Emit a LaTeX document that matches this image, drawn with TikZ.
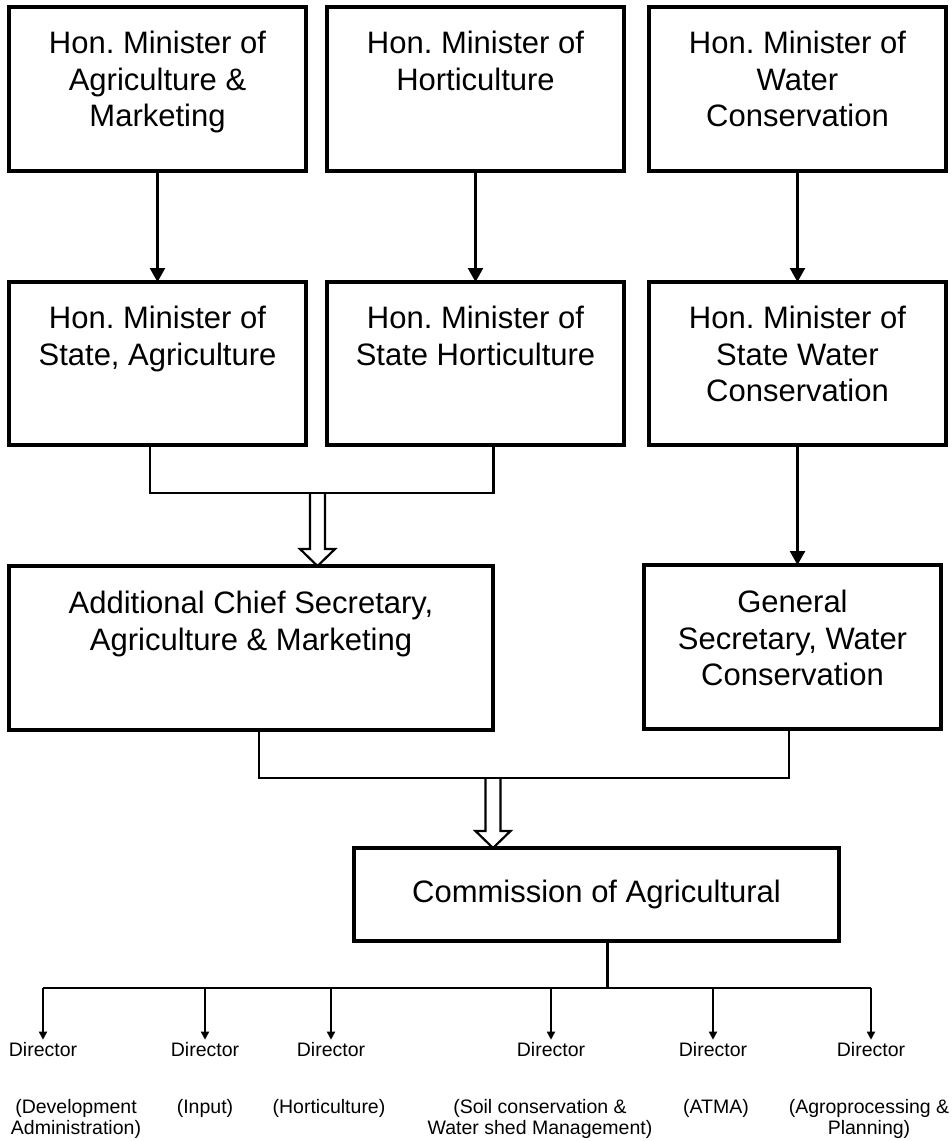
\documentclass[tikz,border=0pt]{standalone}
\usepackage{fontspec}
\setmainfont{Liberation Sans}
\usepackage{tikz}
\usetikzlibrary{positioning, arrows.meta, calc}
\newcommand{\fatarrow}[2]{%
  \draw[hollow] ($(#1)+(-7.5,0)$) -- ($(#1 |- #2)+(-7.5,-17)$) -- ++(-10,0)
    -- (#1 |- #2) -- ++(17.5,-17) -- ++(-10,0) -- ($(#1)+(7.5,0)$);}

\begin{document}
\frenchspacing
\begin{tikzpicture}[
		x=1pt, y=-1pt,
		>={Triangle[length=14pt,width=15pt]},
		box/.style={draw, line width=3.2pt, inner sep=0pt, outer sep=0pt, minimum width=297pt, minimum height=164pt},
		txt/.style={align=center, inner sep=0pt, font=\fontsize{31}{36.5}\selectfont},
		link/.style={line width=2.4pt},
		hollow/.style={line width=2.2pt, line join=miter},
		dir/.style={align=center, inner sep=0pt, font=\fontsize{19.5}{21}\selectfont},
		dirlink/.style={line width=1.7pt, -{Triangle[length=8pt,width=8pt]}}]

	\useasboundingbox (0,0) rectangle (951,1141);

	% ministers
	\node[box] (agri) at (157.5,89) {};
	\node[box, right=21pt of agri] (horti) {};
	\node[box, right=25pt of horti] (water) {};
	\node[txt, below=24pt of agri.north] (agri-t) {Hon. Minister of\\Agriculture \&\\Marketing};
	\node[txt, below=24pt of horti.north] (horti-t) {Hon. Minister of\\Horticulture};
	\node[txt, below=24pt of water.north] (water-t) {Hon. Minister of\\Water\\Conservation};

	% ministers of state
	\node[box, minimum height=163pt, below=111pt of agri] (agrist) {};
	\node[box, minimum height=163pt, below=111pt of horti] (hortist) {};
	\node[box, minimum height=163pt, below=111pt of water] (waterst) {};
	\node[txt, below=24pt of agrist.north] (agrist-t) {Hon. Minister of\\State, Agriculture};
	\node[txt, below=24pt of hortist.north] (hortist-t) {Hon. Minister of\\State Horticulture};
	\node[txt, below=24pt of waterst.north] (waterst-t) {Hon. Minister of\\State Water\\Conservation};

	% secretaries
	\node[box, minimum width=484pt] (acs) at (251,648) {};
	\node[box] (gs) at (792.5,647) {};
	\node[txt, below=25pt of acs.north] (acs-t) {Additional Chief Secretary,\\Agriculture \& Marketing};
	\node[txt, below=25pt of gs.north] (gs-t) {General\\Secretary, Water\\Conservation};

	\node[box, txt, draw, line width=3.2pt, minimum width=485pt, minimum height=93pt] (com) at (596.5,894.5) {Commission of Agricultural};

	\draw[link, ->] (agri) -- (agrist);
	\draw[link, ->] (horti) -- (hortist);
	\draw[link, ->] (water) -- (waterst);
	\draw[link, ->] (waterst.south) -- (waterst.south |- gs.north);

	\draw[link] ([xshift=-7.5pt]agrist.south) -- ++(0,48) -| ([xshift=18pt]hortist.south);
	\coordinate (j1) at (317.5,493);
	\fatarrow{j1}{acs.north}

	\draw[link] ([xshift=8pt]acs.south) -- ++(0,48) -| ([xshift=-3.5pt]gs.south);
	\coordinate (j2) at (493,778);
	\fatarrow{j2}{com.north}

	% directors
	\node[dir, anchor=base] (d1) at (43,1056) {Director};
	\node[dir, anchor=base] (d2) at (205,1056) {Director};
	\node[dir, anchor=base] (d3) at (331,1056) {Director};
	\node[dir, anchor=base] (d4) at (551,1056) {Director};
	\node[dir, anchor=base] (d5) at (713,1056) {Director};
	\node[dir, anchor=base] (d6) at (871,1056) {Director};

	\node[dir, anchor=north] (p1) at (76,1099) {(Development\\Administration)};
	\node[dir, anchor=north] (p2) at (205,1099) {(Input)};
	\node[dir, anchor=north] (p3) at (329,1099) {(Horticulture)};
	\node[dir, anchor=north] (p4) at (540,1099) {(Soil conservation \&\\Water shed Management)};
	\node[dir, anchor=north] (p5) at (716,1099) {(ATMA)};
	\node[dir, anchor=north] (p6) at (869,1099) {(Agroprocessing \&\\Planning)};

	\draw[link] ([xshift=11pt]com.south) -- ++(0,47) coordinate (bus);
	\draw[link] (d1 |- bus) -- (d6 |- bus);
	\draw[dirlink] (d1 |- bus) -- ([yshift=2pt]d1.north);
	\draw[dirlink] (d2 |- bus) -- ([yshift=2pt]d2.north);
	\draw[dirlink] (d3 |- bus) -- ([yshift=2pt]d3.north);
	\draw[dirlink] (d4 |- bus) -- ([yshift=2pt]d4.north);
	\draw[dirlink] (d5 |- bus) -- ([yshift=2pt]d5.north);
	\draw[dirlink] (d6 |- bus) -- ([yshift=2pt]d6.north);

\end{tikzpicture}
\end{document}
